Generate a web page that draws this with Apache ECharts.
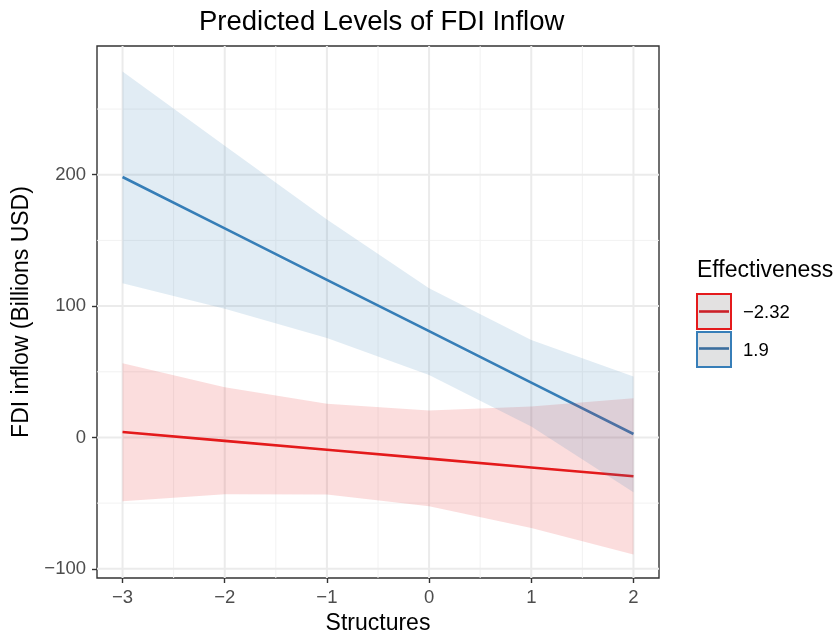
<!DOCTYPE html>
<html>
<head>
<meta charset="utf-8">
<script src="https://cdn.jsdelivr.net/npm/echarts@6/dist/echarts.min.js"></script>
<style>
  html, body { margin: 0; padding: 0; background: #fff; }
  #chart { width: 834px; height: 634px; }
</style>
</head>
<body>
<div id="chart"></div>
<script>
// predicted values at each Structures level
const structures = [-3, -2, -1, 0, 1, 2];

// Effectiveness = -2.32
const redFit  = [4.1, -2.6, -9.4, -16.1, -22.9, -29.6];
const redLow  = [-48.6, -43.3, -43.5, -52.4, -68.9, -89.1];
const redHigh = [56.5, 38.3, 25.6, 20.5, 23.6, 29.9];

// Effectiveness = 1.9
const blueFit  = [198.3, 159.2, 120.0, 80.9, 41.8, 2.6];
const blueLow  = [117.3, 98.0, 75.8, 47.6, 8.4, -41.8];
const blueHigh = [278.6, 222.0, 166.0, 113.5, 74.2, 46.4];

const groupLabels = ['\u22122.32', '1.9'];
const xTicks = [-3, -2, -1, 0, 1, 2];
const xMinor = [-2.5, -1.5, -0.5, 0.5, 1.5];
const yTicks = [-100, 0, 100, 200];
const yMinor = [-50, 50, 150, 250];

const RED = '#E41A1C';
const BLUE = '#377EB8';
const X_MIN = -3.25, X_MAX = 2.25;
const Y_MIN = -107, Y_MAX = 298;
const FONT = 'Liberation Sans, Arial, sans-serif';

const chart = echarts.init(document.getElementById('chart'));

// ribbon polygon, drawn once from the arrays
function ribbon(low, high, fill) {
  return {
    type: 'custom',
    z: 4,
    silent: true,
    data: structures.map((x, i) => [x, low[i], high[i]]),
    renderItem: function (params, api) {
      if (params.dataIndex !== 0) return null;
      const pts = [];
      structures.forEach((x, i) => pts.push(api.coord([x, high[i]])));
      for (let i = structures.length - 1; i >= 0; i--) pts.push(api.coord([structures[i], low[i]]));
      return { type: 'polygon', shape: { points: pts }, style: { fill: fill } };
    }
  };
}

// grid lines as a custom series so they follow the scales
function gridLines(vals, dir, width, color) {
  return {
    type: 'custom',
    z: 0,
    silent: true,
    data: vals.map(v => [v]),
    renderItem: function (params, api) {
      const v = vals[params.dataIndex];
      const a = dir === 'x' ? api.coord([v, Y_MIN]) : api.coord([X_MIN, v]);
      const b = dir === 'x' ? api.coord([v, Y_MAX]) : api.coord([X_MAX, v]);
      return {
        type: 'line',
        shape: { x1: a[0], y1: a[1], x2: b[0], y2: b[1] },
        style: { stroke: color, lineWidth: width }
      };
    }
  };
}

const minusFmt = v => (v < 0 ? '\u2212' + Math.abs(v) : String(v));

const option = {
  animation: false,
  backgroundColor: '#ffffff',
  textStyle: { fontFamily: FONT },
  title: {
    text: 'Predicted Levels of FDI Inflow',
    left: 194,
    top: 3,
    textStyle: { fontSize: 27.5, fontWeight: 'normal', color: '#000' }
  },
  grid: {
    left: 97, right: 175, top: 46, bottom: 56,
    outerBoundsMode: 'none',
    show: true, borderColor: '#333333', borderWidth: 1.4, backgroundColor: 'transparent'
  },
  xAxis: {
    type: 'value',
    min: X_MIN, max: X_MAX,
    name: 'Structures',
    nameLocation: 'middle',
    nameGap: 33,
    nameTextStyle: { fontSize: 23, color: '#000' },
    axisLine: { show: false, onZero: false },
    axisTick: { show: true, length: 5, customValues: xTicks, lineStyle: { color: '#333', width: 1.4 } },
    axisLabel: { customValues: xTicks, fontSize: 18.5, color: '#4D4D4D', margin: 10, formatter: minusFmt },
    splitLine: { show: false }
  },
  yAxis: {
    type: 'value',
    min: Y_MIN, max: Y_MAX,
    name: 'FDI inflow (Billions USD)',
    nameLocation: 'middle',
    nameGap: 58,
    nameTextStyle: { fontSize: 23, color: '#000' },
    axisLine: { show: false, onZero: false },
    axisTick: { show: true, length: 5, customValues: yTicks, lineStyle: { color: '#333', width: 1.4 } },
    axisLabel: { customValues: yTicks, fontSize: 18.5, color: '#4D4D4D', margin: 11, formatter: minusFmt },
    splitLine: { show: false }
  },
  series: [
    gridLines(xMinor, 'x', 1, '#F2F2F2'),
    gridLines(yMinor, 'y', 1, '#F2F2F2'),
    gridLines(xTicks, 'x', 2, '#EBEBEB'),
    gridLines(yTicks, 'y', 2, '#EBEBEB'),
    {
      type: 'line', name: groupLabels[0], z: 2,
      data: structures.map((x, i) => [x, redFit[i]]),
      showSymbol: false, lineStyle: { color: RED, width: 2.6 }, itemStyle: { color: RED }
    },
    {
      type: 'line', name: groupLabels[1], z: 2,
      data: structures.map((x, i) => [x, blueFit[i]]),
      showSymbol: false, lineStyle: { color: BLUE, width: 2.6 }, itemStyle: { color: BLUE }
    },
    ribbon(redLow, redHigh, 'rgba(228,26,28,0.15)'),
    ribbon(blueLow, blueHigh, 'rgba(55,126,184,0.15)')
  ],
  graphic: [
    { type: 'text', left: 697, top: 259, style: { text: 'Effectiveness', fontSize: 23, fill: '#000', fontFamily: FONT } },
    { type: 'rect', shape: { x: 697, y: 294, width: 34, height: 35 }, style: { fill: '#E3E1E1', stroke: RED, lineWidth: 2 } },
    { type: 'line', shape: { x1: 699, y1: 311.5, x2: 729, y2: 311.5 }, style: { stroke: '#CC2027', lineWidth: 2.6 } },
    { type: 'rect', shape: { x: 697, y: 332, width: 34, height: 35 }, style: { fill: '#E1E2E3', stroke: BLUE, lineWidth: 2 } },
    { type: 'line', shape: { x1: 699, y1: 348.5, x2: 729, y2: 348.5 }, style: { stroke: '#3A6E9E', lineWidth: 2.6 } },
    { type: 'text', left: 743, top: 303, style: { text: groupLabels[0], fontSize: 18.5, fill: '#000', fontFamily: FONT } },
    { type: 'text', left: 743, top: 341, style: { text: groupLabels[1], fontSize: 18.5, fill: '#000', fontFamily: FONT } }
  ]
};

chart.setOption(option);
</script>
</body>
</html>
